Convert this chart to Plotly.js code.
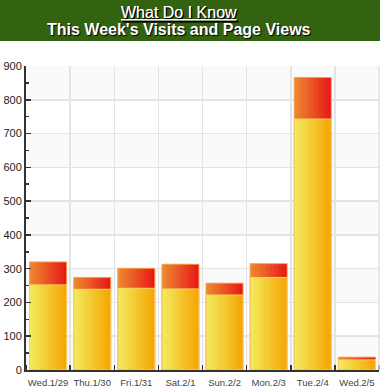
<!DOCTYPE html>
<html><head><meta charset="utf-8">
<script src="https://cdn.plot.ly/plotly-3.0.1.min.js"></script>
<style>html,body{margin:0;padding:0;background:#fff;}#chart{width:386px;height:390px;}</style>
</head><body><div id="chart"></div>
<script>
const categories = ['Wed.1/29','Thu.1/30','Fri.1/31','Sat.2/1','Sun.2/2','Mon.2/3','Tue.2/4','Wed.2/5'];
const pageViews = [320, 274, 301, 313, 257, 315, 866, 38];
const visits = [252, 239, 242, 240, 222, 274, 743, 30];
const yTicks = [0,100,200,300,400,500,600,700,800,900];

const W = 0.84, N = 14;
const idx = categories.map((c,i)=>i);
function lerp(a,b,t){return Math.round(a+(b-a)*t);}
function grad(c0,c1,t){return 'rgb('+lerp(c0[0],c1[0],t)+','+lerp(c0[1],c1[1],t)+','+lerp(c0[2],c1[2],t)+')';}
const traces = [];
function addSlices(vals, c0, c1){
  for(let i=0;i<N;i++){
    traces.push({type:'bar', x:idx, y:vals, width:W/N+0.002, offset:-W/2+i*W/N,
      marker:{color:grad(c0,c1,(i+0.5)/N), line:{width:0}}, hoverinfo:'skip', showlegend:false});
  }
}
addSlices(pageViews, [236,140,50], [232,22,22]);
addSlices(visits, [242,236,96], [245,164,0]);
traces.push({type:'bar', x:idx, y:pageViews, width:W, marker:{color:'rgba(0,0,0,0)', line:{color:'#f6a44a', width:1}}, hoverinfo:'skip', showlegend:false});
traces.push({type:'bar', x:idx, y:visits, width:W, marker:{color:'rgba(0,0,0,0)', line:{color:'#fbd060', width:1}}, hoverinfo:'skip', showlegend:false});

const L=26, R=7, T=66, B=20, Wd=386, Ht=390;
const pw = Wd-L-R, ph = Ht-T-B;
const shapes = [];
// alternating bands
for(let k=1;k<yTicks.length;k+=2){
  shapes.push({type:'rect', xref:'paper', yref:'y', x0:0, x1:1, y0:yTicks[k-1], y1:yTicks[k], fillcolor:'#fafafa', line:{width:0}, layer:'below'});
}
// title bar
shapes.push({type:'rect', xref:'paper', yref:'paper', x0:-L/pw, x1:(380-L)/pw, y0:1+(T-41)/ph, y1:1+T/ph, fillcolor:'#336311', line:{width:0}, layer:'above'});
// right border
shapes.push({type:'line', xref:'paper', yref:'paper', x0:1, x1:1, y0:0, y1:1, line:{color:'#e2e2e2', width:1.5}});

const layout = {
  width:Wd, height:Ht, margin:{l:L, r:R, t:T, b:B},
  paper_bgcolor:'#ffffff', plot_bgcolor:'#ffffff',
  barmode:'overlay', bargap:0,
  font:{family:'Liberation Sans, Arial, sans-serif', color:'#333'},
  xaxis:{range:[-0.5, categories.length-0.5], tickvals:idx, ticktext:categories, ticks:'', showgrid:false,
    zeroline:false, showline:true, linecolor:'#333', linewidth:2, tickfont:{size:9.5, color:'#444'}, ticklabelstandoff:3,
    minor:{tick0:0.5, dtick:1, showgrid:true, gridcolor:'#e4e4e4', gridwidth:1.5, ticks:'inside', ticklen:5, tickcolor:'#333', tickwidth:1.5}},
  yaxis:{range:[0,900], tickvals:yTicks, ticks:'inside', ticklen:5, tickwidth:1.5, tickcolor:'#333', showgrid:true, gridcolor:'#e4e4e4', gridwidth:1.5,
    zeroline:false, showline:true, linecolor:'#333', linewidth:2, tickfont:{size:11, color:'#222'},
    minor:{dtick:50, ticks:'inside', ticklen:3, tickwidth:1.5, tickcolor:'#333', showgrid:false}},
  shapes:shapes,
  annotations:[
    {xref:'paper', yref:'paper', x:(179-L)/pw, y:1+(T-12)/ph, xanchor:'center', yanchor:'middle', showarrow:false,
     text:'<span style="text-decoration:underline">What Do I Know</span>', font:{size:16, color:'#ffffff', shadow:'1px 1px 1px #000'}},
    {xref:'paper', yref:'paper', x:(179-L)/pw, y:1+(T-30)/ph, xanchor:'center', yanchor:'middle', showarrow:false,
     text:'<b>This Week\'s Visits and Page Views</b>', font:{size:16, color:'#ffffff', shadow:'1px 1px 1px #000'}}
  ]
};
Plotly.newPlot('chart', traces, layout, {staticPlot:true, displayModeBar:false});
</script></body></html>
